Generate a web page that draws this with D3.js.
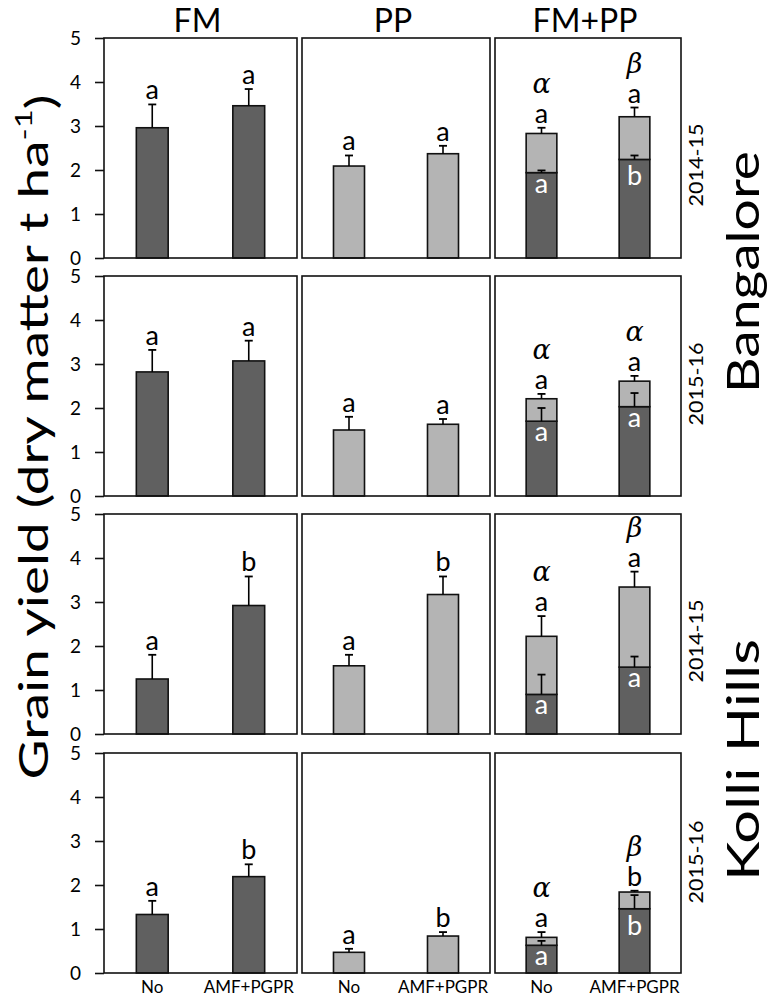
<!DOCTYPE html>
<html>
<head>
<meta charset="utf-8">
<script src="https://cdn.jsdelivr.net/npm/d3@7"></script>
<style>
  body { margin: 0; background: #fff; }
  text { font-family: Lato, "Open Sans", sans-serif; fill: #000; }
</style>
</head>
<body>
<div id="chart"></div>
<script>
// values, t ha-1
// rows: Bangalore 2014-15, Bangalore 2015-16, Kolli Hills 2014-15, Kolli Hills 2015-16
var treatments = ["No", "AMF+PGPR"];
var crops = ["FM", "PP", "FM+PP"];
var sites = ["Bangalore", "Kolli Hills"];
var seasons = ["2014-15", "2015-16", "2014-15", "2015-16"];
var yTicks = [0, 1, 2, 3, 4, 5];

// sole finger millet
var fmYield = [[2.96, 3.46], [2.82, 3.07], [1.25, 2.92], [1.33, 2.19]];
var fmSE = [[0.53, 0.38], [0.50, 0.46], [0.55, 0.66], [0.31, 0.28]];
var fmLetters = [["a", "a"], ["a", "a"], ["a", "b"], ["a", "b"]];

// sole pigeon pea
var ppYield = [[2.09, 2.37], [1.50, 1.63], [1.55, 3.17], [0.47, 0.84]];
var ppSE = [[0.24, 0.18], [0.30, 0.12], [0.25, 0.41], [0.08, 0.09]];
var ppLetters = [["a", "a"], ["a", "a"], ["a", "b"], ["a", "b"]];

// intercrop: finger millet part (dark) stacked with pigeon pea part (light)
var icFM = [[1.94, 2.24], [1.70, 2.03], [0.90, 1.52], [0.63, 1.46]];
var icFMSE = [[0.05, 0.09], [0.30, 0.31], [0.45, 0.24], [0.10, 0.31]];
var icPP = [[0.89, 0.97], [0.51, 0.58], [1.32, 1.82], [0.18, 0.38]];
var icTotalSE = [[0.13, 0.21], [0.11, 0.12], [0.46, 0.35], [0.12, 0.03]];
var icFMLetters = [["a", "b"], ["a", "a"], ["a", "a"], ["a", "b"]];
var icTotalLetters = [["a", "a"], ["a", "a"], ["a", "a"], ["a", "b"]];
var icGreek = [["α", "β"], ["α", "α"], ["α", "β"], ["α", "β"]];

// panel layout
var width = 768, height = 1001;
var colX = [104, 302, 495], colW = [193, 188, 186];
var rowY = [38, 276, 514, 753], rowH = 220;
var dark = "#606060", light = "#b4b4b4";

var svg = d3.select("#chart")
  .append("svg")
    .attr("width", width)
    .attr("height", height);

// column titles
crops.forEach(function(c, i) {
  svg.append("text")
      .attr("x", colX[i] + colW[i] / 2 - 3)
      .attr("y", 32)
      .attr("text-anchor", "middle")
      .style("font-size", "32px")
      .text(c);
});

function errBar(g, cx, yBase, yTop) {
  g.append("line")
      .attr("x1", cx).attr("x2", cx)
      .attr("y1", yBase).attr("y2", yTop)
      .attr("stroke", "#000").attr("stroke-width", 1.6);
  g.append("line")
      .attr("x1", cx - 4).attr("x2", cx + 4)
      .attr("y1", yTop).attr("y2", yTop)
      .attr("stroke", "#000").attr("stroke-width", 1.8);
}

function letter(g, cx, y, txt, size) {
  return g.append("text")
      .attr("x", cx)
      .attr("y", y)
      .attr("text-anchor", "middle")
      .style("font-size", (size || 27) + "px")
      .text(txt);
}

for (var r = 0; r < 4; r++) {
  for (var c = 0; c < 3; c++) {
    var g = svg.append("g")
        .attr("transform", "translate(" + colX[c] + "," + rowY[r] + ")");

    var y = d3.scaleLinear().domain([0, 5]).range([rowH, 0]);
    var x = d3.scaleBand()
        .domain(treatments)
        .range([0, colW[c]])
        .paddingInner(0.67)
        .paddingOuter(0.335);
    var bw = x.bandwidth();

    treatments.forEach(function(t, i) {
      var x0 = x(t), cx = x0 + bw / 2;
      if (c < 2) {
        var v = c == 0 ? fmYield[r][i] : ppYield[r][i];
        var se = c == 0 ? fmSE[r][i] : ppSE[r][i];
        var lab = c == 0 ? fmLetters[r][i] : ppLetters[r][i];
        g.append("rect")
            .attr("x", x0).attr("y", y(v))
            .attr("width", bw).attr("height", rowH - y(v))
            .attr("fill", c == 0 ? dark : light)
            .attr("stroke", "#111").attr("stroke-width", 1.6);
        errBar(g, cx, y(v), y(v + se));
        letter(g, cx, y(v + se) - 5, lab);
      } else {
        var fm = icFM[r][i], pp = icPP[r][i], tot = fm + pp;
        g.append("rect")
            .attr("x", x0).attr("y", y(fm))
            .attr("width", bw).attr("height", rowH - y(fm))
            .attr("fill", dark)
            .attr("stroke", "#111").attr("stroke-width", 1.6);
        g.append("rect")
            .attr("x", x0).attr("y", y(tot))
            .attr("width", bw).attr("height", y(fm) - y(tot))
            .attr("fill", light)
            .attr("stroke", "#111").attr("stroke-width", 1.6);
        errBar(g, cx, y(fm), y(fm + icFMSE[r][i]));
        errBar(g, cx, y(tot), y(tot + icTotalSE[r][i]));
        var ly = y(tot + icTotalSE[r][i]) - 5;
        letter(g, cx, ly, icTotalLetters[r][i]);
        letter(g, cx, ly - 30, icGreek[r][i], 27)
            .style("font-family", "'DejaVu Serif', serif")
            .style("font-style", "italic");
        var wl = icFMLetters[r][i];
        letter(g, cx, y(fm) + (wl == "b" ? 26 : 20), wl)
            .style("fill", "#fff");
      }
    });

    // panel frame
    g.append("rect")
        .attr("width", colW[c]).attr("height", rowH)
        .attr("fill", "none")
        .attr("stroke", "#111").attr("stroke-width", 1.6);

    // y axis only on first column
    if (c == 0) {
      var ay = g.append("g")
          .call(d3.axisLeft(y).tickValues(yTicks).tickFormat(d3.format("d"))
            .tickSize(9).tickPadding(14));
      ay.select(".domain").remove();
      ay.selectAll(".tick line").attr("stroke", "#111").attr("stroke-width", 1.6);
      ay.selectAll(".tick text")
          .style("font-size", "19px")
          .style("font-family", "Lato, sans-serif")
          .attr("fill", "#000");
    }

    // treatment labels under the last row
    if (r == 3) {
      var ax = g.append("g")
          .attr("transform", "translate(0," + rowH + ")")
          .call(d3.axisBottom(x).tickSize(0).tickPadding(8));
      ax.select(".domain").remove();
      ax.selectAll(".tick text")
          .style("font-size", "17px")
          .style("font-family", "Lato, sans-serif")
          .attr("fill", "#000");
    }
  }
}

// season labels on the right
var seasonY = [165, 384, 641, 862];
seasons.forEach(function(s, i) {
  svg.append("text")
      .attr("transform", "translate(695," + seasonY[i] + ") rotate(-90)")
      .attr("text-anchor", "middle")
      .attr("dominant-baseline", "central")
      .attr("textLength", 83)
      .attr("lengthAdjust", "spacingAndGlyphs")
      .style("font-size", "19px")
      .text(s);
});

// site labels
var siteY = [272, 760];
sites.forEach(function(s, i) {
  svg.append("text")
      .attr("transform", "translate(742," + siteY[i] + ") rotate(-90)")
      .attr("text-anchor", "middle")
      .attr("dominant-baseline", "central")
      .attr("textLength", 242)
      .attr("lengthAdjust", "spacingAndGlyphs")
      .style("font-size", "44px")
      .text(s);
});

// Y label
var yl = svg.append("text")
    .attr("transform", "translate(33,437) rotate(-90)")
    .attr("text-anchor", "middle")
    .attr("dominant-baseline", "central")
    .attr("textLength", 685)
    .attr("lengthAdjust", "spacingAndGlyphs")
    .style("font-size", "40px");
yl.append("tspan").text("Grain yield (dry matter t ha");
yl.append("tspan").attr("dy", "-0.45em").style("font-size", "24px").text("-1");
yl.append("tspan").attr("dy", "0.45em").text(")");
</script>
</body>
</html>
